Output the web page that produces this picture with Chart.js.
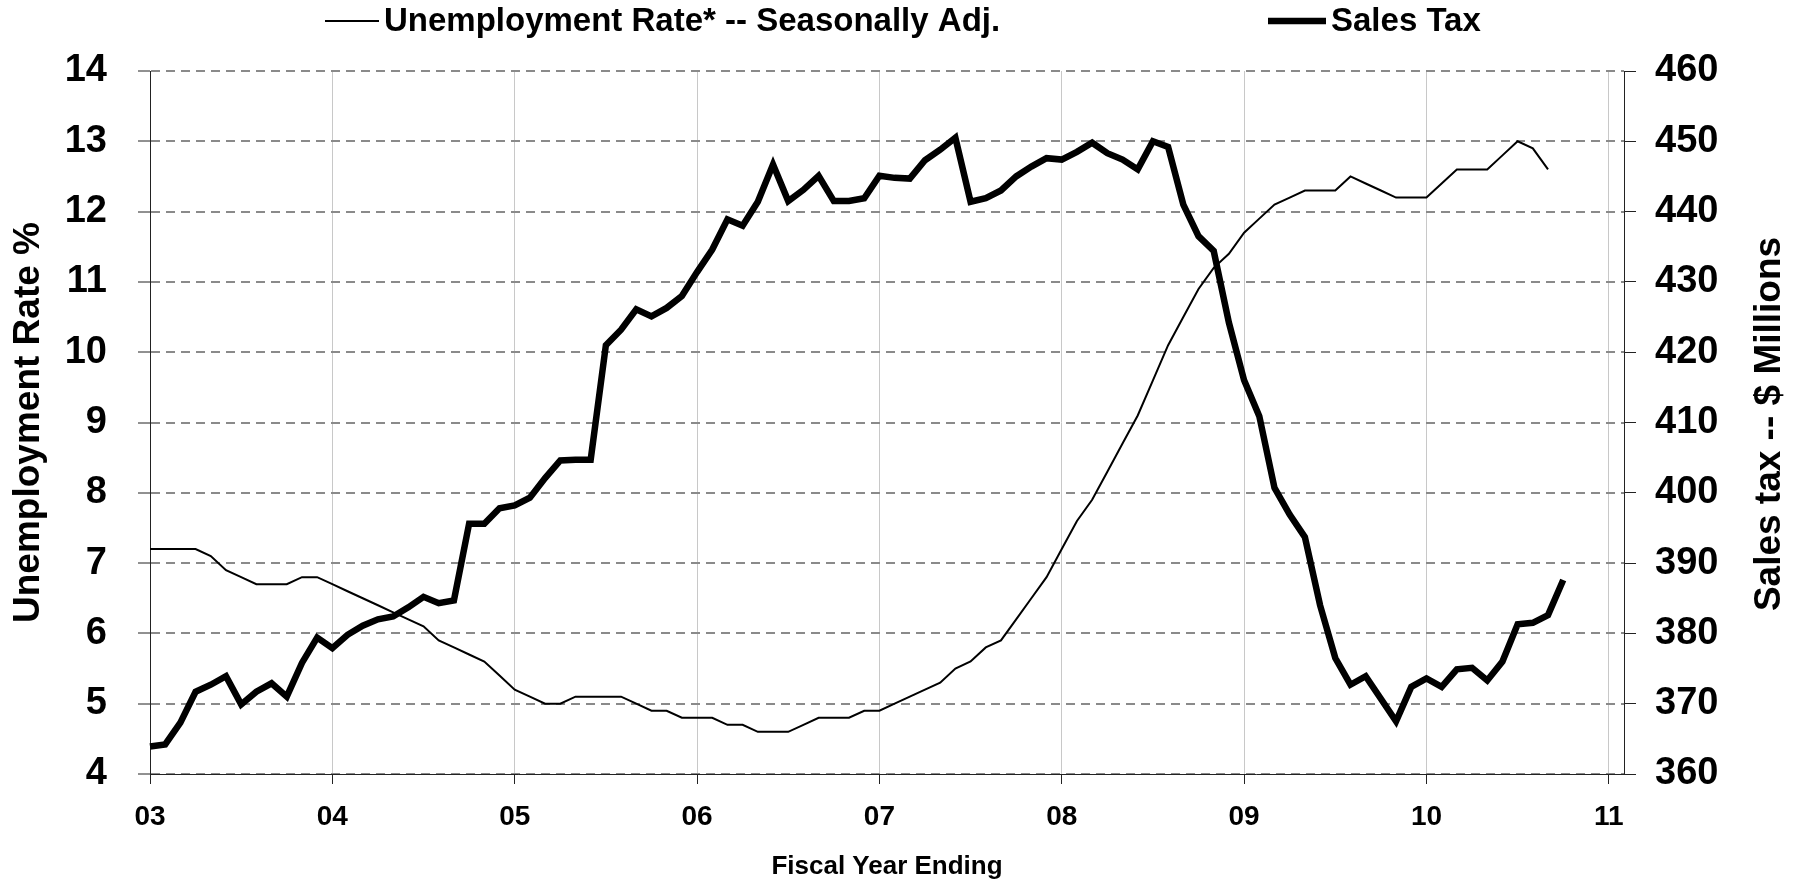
<!DOCTYPE html>
<html>
<head>
<meta charset="utf-8">
<script src="https://cdn.jsdelivr.net/npm/chart.js@4.4.1/dist/chart.umd.min.js"></script>
<style>
  html, body { margin: 0; padding: 0; background: #fff; }
</style>
</head>
<body>
<canvas id="taxChart" width="1799" height="882"></canvas>
<script>
// fiscal years on the x axis, one point per month
const yearLabels = ['03', '04', '05', '06', '07', '08', '09', '10', '11'];

// unemployment rate, % (left axis)
const unemploymentRate = [
    7.2, 7.2, 7.2, 7.2, 7.1, 6.9, 6.8, 6.7, 6.7, 6.7, 6.8, 6.8,
    6.7, 6.6, 6.5, 6.4, 6.3, 6.2, 6.1, 5.9, 5.8, 5.7, 5.6, 5.4,
    5.2, 5.1, 5.0, 5.0, 5.1, 5.1, 5.1, 5.1, 5.0, 4.9, 4.9, 4.8,
    4.8, 4.8, 4.7, 4.7, 4.6, 4.6, 4.6, 4.7, 4.8, 4.8, 4.8, 4.9,
    4.9, 5.0, 5.1, 5.2, 5.3, 5.5, 5.6, 5.8, 5.9, 6.2, 6.5, 6.8,
    7.2, 7.6, 7.9, 8.3, 8.7, 9.1, 9.6, 10.1, 10.5, 10.9, 11.2, 11.4,
    11.7, 11.9, 12.1, 12.2, 12.3, 12.3, 12.3, 12.5, 12.4, 12.3, 12.2, 12.2,
    12.2, 12.4, 12.6, 12.6, 12.6, 12.8, 13.0, 12.9, 12.6
];

// sales tax, $ millions (right axis)
const salesTax = [
    363.9, 364.2, 367.3, 371.7, 372.7, 373.9, 369.9, 371.7, 372.9, 371.0, 375.8, 379.4,
    377.9, 379.8, 381.1, 382.0, 382.4, 383.7, 385.2, 384.3, 384.7, 395.6, 395.6, 397.8,
    398.2, 399.3, 402.1, 404.6, 404.7, 404.7, 421.0, 423.2, 426.1, 425.1, 426.3, 428.0,
    431.4, 434.6, 438.9, 438.0, 441.4, 446.7, 441.5, 443.1, 445.1, 441.5, 441.5, 441.9,
    445.1, 444.8, 444.7, 447.3, 448.8, 450.5, 441.4, 441.9, 443.0, 445.0, 446.4, 447.6,
    447.4, 448.5, 449.8, 448.3, 447.4, 446.0, 450.0, 449.2, 441.0, 436.5, 434.4, 424.2,
    416.0, 410.9, 400.7, 396.9, 393.7, 384.0, 376.5, 372.7, 373.9, 370.7, 367.5, 372.4,
    373.6, 372.4, 374.9, 375.1, 373.3, 376.0, 381.3, 381.5, 382.6, 387.6
];

const rateRange = [4, 14];
const taxRange = [360, 460];

// month labels: year label on the first month, axis runs one month past '11'
const monthLabels = [];
yearLabels.slice(0, -1).forEach(y => {
    for (let m = 0; m < 12; m++) monthLabels.push(m === 0 ? y : y + '-' + m);
});
monthLabels.push(yearLabels[yearLabels.length - 1], yearLabels[yearLabels.length - 1] + '-1');

const isYear = i => yearLabels.includes(monthLabels[i]);
const FONT = '"Liberation Sans", Arial, sans-serif';

Chart.defaults.font.family = FONT;
Chart.defaults.font.weight = 'bold';
Chart.defaults.color = '#000';

// legend across the top and the right axis title (reads bottom to top)
const chartText = {
    id: 'chartText',
    afterDraw(chart) {
        const ctx = chart.ctx;
        const items = [{ x: 325, len: 54, ds: 0 }, { x: 1268, len: 58, ds: 1 }];
        ctx.save();
        ctx.fillStyle = '#000';
        ctx.font = 'bold 33px ' + FONT;
        ctx.textBaseline = 'middle';
        items.forEach(it => {
            const ds = chart.data.datasets[it.ds];
            ctx.strokeStyle = ds.borderColor;
            ctx.lineWidth = ds.borderWidth;
            ctx.beginPath();
            ctx.moveTo(it.x, 21);
            ctx.lineTo(it.x + it.len, 21);
            ctx.stroke();
            ctx.fillText(ds.label, it.x + it.len + 5, 22);
        });
        ctx.font = 'bold 37px ' + FONT;
        ctx.textAlign = 'center';
        ctx.translate(1770, 424);
        ctx.rotate(-Math.PI / 2);
        ctx.fillText('Sales tax -- $ Millions', 0, 0);
        ctx.restore();
    }
};

const ctx = document.getElementById('taxChart').getContext('2d');
new Chart(ctx, {
    type: 'line',
    data: {
        labels: monthLabels,
        datasets: [{
            label: 'Unemployment Rate* -- Seasonally Adj.',
            data: unemploymentRate,
            yAxisID: 'y',
            borderColor: '#000',
            borderWidth: 2,
            pointRadius: 0,
            tension: 0
        }, {
            label: 'Sales Tax',
            data: salesTax,
            yAxisID: 'y1',
            borderColor: '#000',
            borderWidth: 6.5,
            pointRadius: 0,
            tension: 0
        }]
    },
    options: {
        responsive: false,
        animation: false,
        layout: { padding: { top: 71, left: 0, right: 0, bottom: 0 } },
        plugins: {
            legend: { display: false },
            tooltip: { enabled: false }
        },
        scales: {
            x: {
                offset: false,
                afterFit: s => { s.height = 108; },
                border: { color: '#222', width: 1 },
                grid: {
                    color: c => (isYear(c.index) && c.index > 0 ? '#c8c8c8' : 'rgba(0,0,0,0)'),
                    tickColor: c => (isYear(c.index) ? '#222' : 'rgba(0,0,0,0)'),
                    tickWidth: 1,
                    tickLength: 10
                },
                ticks: {
                    autoSkip: false,
                    maxRotation: 0,
                    padding: 16,
                    font: { size: 28, weight: 'bold' },
                    callback(value) {
                        const lbl = this.getLabelForValue(value);
                        return yearLabels.includes(lbl) ? lbl : '';
                    }
                },
                title: {
                    display: true,
                    text: 'Fiscal Year Ending',
                    font: { size: 26, weight: 'bold' },
                    padding: { top: 0, bottom: 0 }
                }
            },
            y: {
                position: 'left',
                min: rateRange[0],
                max: rateRange[1],
                afterFit: s => { s.width = 150; },
                border: { color: '#222', width: 1, dash: [9, 6] },
                grid: {
                    color: '#8a8a8a',
                    lineWidth: 2,
                    tickColor: '#222',
                    tickWidth: 1,
                    tickLength: 12
                },
                ticks: {
                    stepSize: 1,
                    padding: 31,
                    font: { size: 38, weight: 'bold' }
                },
                title: {
                    display: true,
                    text: 'Unemployment Rate %',
                    font: { size: 37, weight: 'bold' },
                    padding: { top: 7, bottom: 0 }
                }
            },
            y1: {
                position: 'right',
                min: taxRange[0],
                max: taxRange[1],
                afterFit: s => { s.width = 175; },
                border: { color: '#222', width: 1 },
                grid: {
                    drawOnChartArea: false,
                    tickColor: '#222',
                    tickWidth: 1,
                    tickLength: 12
                },
                ticks: {
                    stepSize: 10,
                    padding: 19,
                    font: { size: 38, weight: 'bold' }
                }
            }
        }
    },
    plugins: [chartText]
});
</script>
</body>
</html>
